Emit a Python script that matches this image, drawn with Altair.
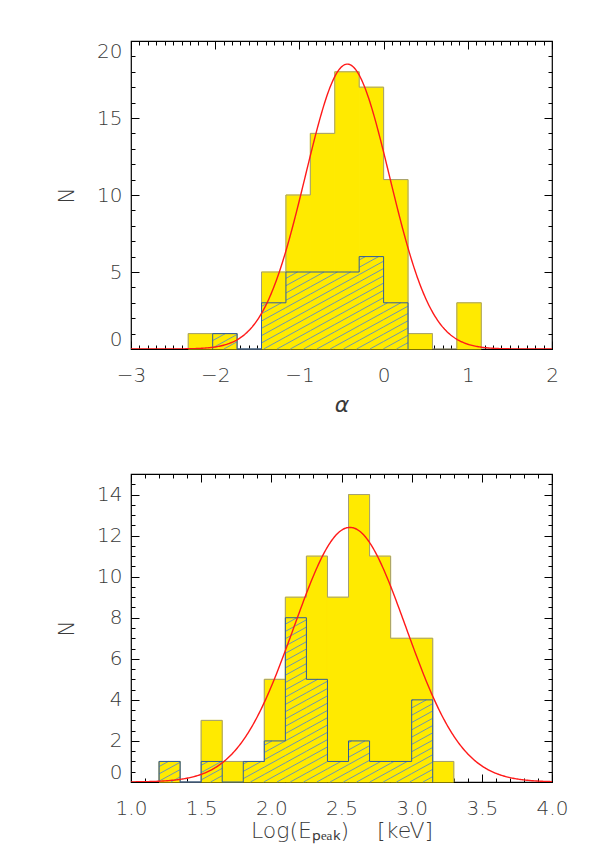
import math
import altair as alt
import numpy as np
import pandas as pd

# ---------------- data ----------------
alpha_edges = [-2.32, -2.03, -1.74, -1.45, -1.16, -0.87, -0.58, -0.29, 0.00, 0.29, 0.58, 0.87, 1.16]
alpha_all = [1, 1, 0, 5, 10, 14, 18, 17, 11, 1, 0, 3]
alpha_sub = [0, 1, 0, 3, 5, 5, 5, 6, 3, 0, 0, 0]
alpha_fit = [18.5, -0.43, 0.50]          # amplitude, mean, sigma of the Gaussian fit

ep_edges = [1.20, 1.35, 1.50, 1.65, 1.80, 1.95, 2.10, 2.25, 2.40, 2.55, 2.70, 2.85, 3.00, 3.15, 3.30]
ep_all = [1, 0, 3, 1, 1, 5, 9, 11, 9, 14, 11, 7, 7, 1]
ep_sub = [1, 0, 1, 0, 1, 2, 8, 5, 1, 2, 1, 1, 4, 0]
ep_fit = [12.4, 2.56, 0.40]

alpha_xticks = [-3, -2, -1, 0, 1, 2]
alpha_yticks = [0, 5, 10, 15, 20]
ep_xticks = [1.0, 1.5, 2.0, 2.5, 3.0, 3.5, 4.0]
ep_yticks = [0, 2, 4, 6, 8, 10, 12, 14]

W, H = 421, 308
YELLOW = "#ffea00"
FONT = "DejaVu Sans"
TXT = "#3a3a3a"


def minor(lo, hi, step):
    n = int(round((hi - lo) / step))
    return [round(lo + i * step, 4) for i in range(n + 1)]


def hatch_segments(edges, counts, xdom, ydom, spacing=7.3, slope=0.55):
    sx = W / (xdom[1] - xdom[0])
    sy = H / (ydom[1] - ydom[0])
    segs = []
    for i, c in enumerate(counts):
        if c <= 0:
            continue
        px0 = (edges[i] - xdom[0]) * sx
        px1 = (edges[i + 1] - xdom[0]) * sx
        ph = c * sy
        bmin = -slope * px1
        bmax = ph - slope * px0
        for k in range(math.ceil(bmin / spacing), math.floor(bmax / spacing) + 1):
            b = k * spacing
            a = max(px0, -b / slope)
            e = min(px1, (ph - b) / slope)
            if e > a + 0.3:
                segs.append({
                    "hx": a / sx + xdom[0], "hx2": e / sx + xdom[0],
                    "hy": (slope * a + b) / sy + ydom[0], "hy2": (slope * e + b) / sy + ydom[0],
                })
    return pd.DataFrame(segs)


def step_outline(edges, counts):
    # points for a step-after line: (e0,0), (e0,c0), (e1,c1) ... (e_{n-1},c_{n-1}), (e_n,0)
    xs = [edges[0]] + list(edges[:-1]) + [edges[-1]]
    ys = [0] + list(counts) + [0]
    return pd.DataFrame({"sx": xs, "sy": ys, "i": list(range(len(xs)))})


def panel(edges, counts, sub, fit, xdom, ydom, xmaj, xmin_step, ymaj, ymin_step,
          xfmt, xtitle, xtitle_style, xtitle_pad):
    xs = alt.Scale(domain=xdom, nice=False, zero=False)
    ys = alt.Scale(domain=ydom, nice=False, zero=False)

    common = dict(grid=False, domain=False, tickColor="black", tickWidth=1)
    ax_b = alt.Axis(orient="bottom", values=xmaj, tickSize=8, offset=-8, format=xfmt,
                    labelPadding=16, labelFontSize=20, labelFont=FONT, labelFontWeight=200,
                    labelColor=TXT, labelFlush=False, labelOverlap=False,
                    title=xtitle, titleFont=FONT, titleFontSize=22, titleFontWeight=200,
                    titleFontStyle=xtitle_style, titleColor=TXT, titlePadding=xtitle_pad, **common)
    ax_l = alt.Axis(orient="left", values=ymaj, tickSize=8, offset=-8, format="d",
                    labelPadding=9, labelFontSize=20, labelFont=FONT, labelFontWeight=200,
                    labelColor=TXT, labelFlush=True, labelOverlap=False,
                    title="N", titleFont=FONT, titleFontSize=22, titleFontWeight=200,
                    titleColor=TXT, titlePadding=18, **common)
    ax_bm = alt.Axis(orient="bottom", values=minor(xdom[0], xdom[1], xmin_step), tickSize=4,
                     offset=-4, labels=False, title=None, **common)
    ax_lm = alt.Axis(orient="left", values=minor(ydom[0], ydom[1], ymin_step), tickSize=4,
                     offset=-4, labels=False, title=None, **common)
    ax_t = alt.Axis(orient="top", values=xmaj, tickSize=8, offset=-8, labels=False,
                    title=None, **common)
    ax_r = alt.Axis(orient="right", values=ymaj, tickSize=8, offset=-8, labels=False,
                    title=None, **common)
    ax_tm = alt.Axis(orient="top", values=minor(xdom[0], xdom[1], xmin_step), tickSize=4,
                     offset=-4, labels=False, title=None, **common)
    ax_rm = alt.Axis(orient="right", values=minor(ydom[0], ydom[1], ymin_step), tickSize=4,
                     offset=-4, labels=False, title=None, **common)

    df_all = pd.DataFrame({"x0": edges[:-1], "x1": edges[1:], "n": counts})
    df_all = df_all[df_all["n"] > 0]
    nz = [i for i, v in enumerate(sub) if v > 0]
    lo, hi = nz[0], nz[-1]
    df_h = hatch_segments(edges, sub, xdom, ydom)
    out_all = step_outline(edges, counts)
    out_sub = step_outline(edges[lo:hi + 2], sub[lo:hi + 1])

    l_all = alt.Chart(df_all).mark_rect(fill=YELLOW, stroke=YELLOW, strokeWidth=1).encode(
        x=alt.X("x0:Q", scale=xs, axis=ax_b), x2="x1:Q",
        y=alt.Y("n:Q", scale=ys, axis=ax_l), y2=alt.datum(0))
    l_all_o = alt.Chart(out_all).mark_line(interpolate="step-after", color="#a39e78",
                                           strokeWidth=1).encode(
        x=alt.X("sx:Q", scale=xs, axis=ax_bm),
        y=alt.Y("sy:Q", scale=ys, axis=ax_lm), order="i:Q")
    l_h = alt.Chart(df_h).mark_rule(color="#5b8cc4", strokeWidth=0.9).encode(
        x=alt.X("hx:Q", scale=xs, axis=ax_t), x2="hx2:Q",
        y=alt.Y("hy:Q", scale=ys, axis=ax_r), y2="hy2:Q")
    l_sub_o = alt.Chart(out_sub).mark_line(interpolate="step-after", color="#2f5b9c",
                                           strokeWidth=1).encode(
        x=alt.X("sx:Q", scale=xs, axis=None),
        y=alt.Y("sy:Q", scale=ys, axis=None), order="i:Q")
    amp, mu, sig = fit
    l_c = alt.Chart(alt.sequence(xdom[0], xdom[1] + 0.001, (xdom[1] - xdom[0]) / 400, as_="gx")
                    ).transform_calculate(
        gy=f"{amp} * exp(-pow(datum.gx - ({mu}), 2) / (2 * {sig} * {sig}))"
    ).mark_line(color="#ff1a1a", strokeWidth=1.4, clip=True).encode(
        x=alt.X("gx:Q", scale=xs, axis=ax_tm),
        y=alt.Y("gy:Q", scale=ys, axis=ax_rm))

    return alt.layer(l_all, l_all_o, l_h, l_sub_o, l_c).resolve_axis(
        x="independent", y="independent").properties(width=W, height=H)


top = panel(alpha_edges, alpha_all, alpha_sub, alpha_fit, [-3, 2], [0, 20],
            alpha_xticks, 0.1, alpha_yticks, 1, "d", "\u03b1", "italic", 9)
bottom = panel(ep_edges, ep_all, ep_sub, ep_fit, [1.0, 4.0], [0, 15],
               ep_xticks, 0.1, ep_yticks, 0.5, ".1f",
               "Log(E\u209a\u2091\u2090\u2096)\u00a0\u00a0\u00a0\u00a0[keV]", "normal", 2)

chart = alt.vconcat(top, bottom, spacing=125, bounds="flush").properties(
    padding={"left": 46, "top": 31, "right": 10, "bottom": 5}
).configure_view(stroke="black", strokeWidth=1.2)

chart.save("out.html", embed_options={"renderer": "svg", "actions": False})
